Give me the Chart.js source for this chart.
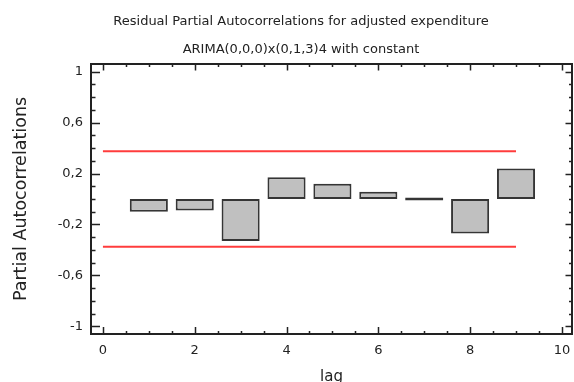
<!DOCTYPE html>
<html lang="en">
<head>
    <meta charset="UTF-8">
    <title>Residual Partial Autocorrelations</title>
    <script src="https://cdn.jsdelivr.net/npm/chart.js"></script>
    <style>
        body { margin: 0; background: #fff; }
        .wrap { position: relative; width: 574px; height: 382px; }
        .titulo {
            position: absolute; left: 28px; width: 546px; text-align: center;
            font-family: "DejaVu Sans", sans-serif; font-size: 13px; line-height: 16px; color: #222;
        }
    </style>
</head>
<body>
    <div class="wrap">
        <div class="titulo" style="top: 13px;">Residual Partial Autocorrelations for adjusted expenditure</div>
        <div class="titulo" style="top: 41px;">ARIMA(0,0,0)x(0,1,3)4 with constant</div>
        <canvas id="grafico"></canvas>
    </div>

<script>
    // valores
    const lags = [1, 2, 3, 4, 5, 6, 7, 8, 9];
    const pacf = [-0.10, -0.09, -0.33, 0.17, 0.12, 0.056, 0, -0.27, 0.24];
    const limiteLags = [0, 9];
    const limiteSup = [0.375, 0.375];
    const limiteInf = [-0.375, -0.375];
    const xTicks = [0, 2, 4, 6, 8, 10];
    const yTicks = [-1, -0.6, -0.2, 0.2, 0.6, 1];

    const fonte = "'DejaVu Sans', sans-serif";

    // moldura com marcas internas nos quatro lados
    const moldura = {
        id: 'moldura',
        afterDatasetsDraw(chart) {
            const { ctx, chartArea: a, scales: { x, y } } = chart;
            ctx.save();
            ctx.strokeStyle = '#222';
            ctx.lineWidth = 1.5;
            ctx.beginPath();
            for (let i = -10; i <= 10; i++) {
                const py = Math.round(y.getPixelForValue(i / 10)) + 0.5;
                const major = (i + 10) % 4 === 0;
                ctx.moveTo(a.left, py); ctx.lineTo(a.left + (major ? 9 : 4.5), py);
                ctx.moveTo(a.right, py); ctx.lineTo(a.right - (major ? 6.5 : 3), py);
            }
            for (let i = 0; i <= 20; i++) {
                const px = Math.round(x.getPixelForValue(i / 2)) + 0.5;
                const major = i % 4 === 0;
                ctx.moveTo(px, a.bottom); ctx.lineTo(px, a.bottom - (major ? 7 : 3));
                ctx.moveTo(px, a.top); ctx.lineTo(px, a.top + (major ? 6.5 : 3));
            }
            ctx.stroke();
            ctx.lineWidth = 2;
            ctx.strokeRect(a.left, a.top, a.width, a.height);
            ctx.restore();
        }
    };

    const grafico = document.getElementById('grafico');
    new Chart(grafico, {
        type: 'bar',
        data: {
            datasets: [
                {
                    type: 'line',
                    data: limiteLags.map((l, i) => ({ x: l, y: limiteSup[i] })),
                    borderColor: '#ff3c3c',
                    borderWidth: 2,
                    pointRadius: 0
                },
                {
                    type: 'line',
                    data: limiteLags.map((l, i) => ({ x: l, y: limiteInf[i] })),
                    borderColor: '#ff3c3c',
                    borderWidth: 2,
                    pointRadius: 0
                },
                {
                    label: 'PACF',
                    data: lags.map((l, i) => ({ x: l, y: pacf[i] })),
                    backgroundColor: '#c0c0c0',
                    borderColor: '#353535',
                    borderWidth: 2,
                    borderSkipped: false,
                    minBarLength: 3,
                    barPercentage: 0.83,
                    categoryPercentage: 1
                }
            ]
        },
        options: {
            responsive: true,
            maintainAspectRatio: false,
            animation: false,
            layout: { padding: { top: 64, right: 2, left: 0, bottom: 0 } },
            plugins: {
                legend: { display: false },
                tooltip: { enabled: false }
            },
            scales: {
                x: {
                    type: 'linear',
                    min: -0.26,
                    max: 10.22,
                    offset: false,
                    grid: { display: false, drawTicks: false },
                    border: { display: false },
                    afterBuildTicks: (s) => { s.ticks = xTicks.map(v => ({ value: v })); },
                    afterFit: (s) => { s.height = 48; s.paddingLeft = 0; s.paddingRight = 0; },
                    ticks: { padding: 9, color: '#222', font: { family: fonte, size: 13 }, maxRotation: 0 },
                    title: {
                        display: true, text: 'lag', color: '#222', padding: 0,
                        font: { family: fonte, size: 15, lineHeight: 0.7 }
                    }
                },
                y: {
                    min: -1.06,
                    max: 1.06,
                    grid: { display: false, drawTicks: false },
                    border: { display: false },
                    afterBuildTicks: (s) => { s.ticks = yTicks.map(v => ({ value: v })); },
                    afterFit: (s) => { s.width = 91; s.paddingTop = 0; s.paddingBottom = 0; },
                    ticks: {
                        padding: 8, color: '#222', font: { family: fonte, size: 13 },
                        callback: (v) => String(v).replace('.', ',')
                    },
                    title: {
                        display: true, text: 'Partial Autocorrelations', color: '#222',
                        padding: { top: 11, bottom: 0 },
                        font: { family: fonte, size: 17.5 }
                    }
                }
            }
        },
        plugins: [moldura]
    });
</script>
</body>
</html>
